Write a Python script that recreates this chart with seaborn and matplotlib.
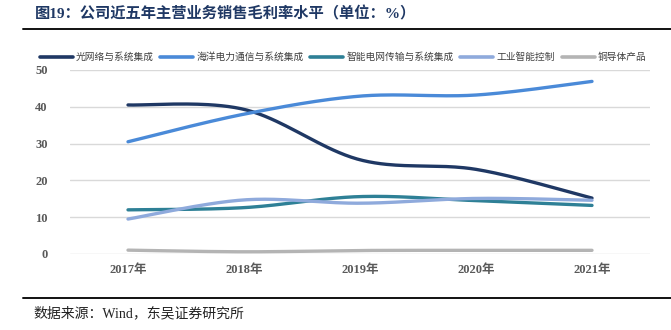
import numpy as np
import pandas as pd
import matplotlib
matplotlib.use("Agg")
import matplotlib.pyplot as plt
import seaborn as sns

# ---------------- data ----------------
years = ["2017年", "2018年", "2019年", "2020年", "2021年"]
series_names = ["光网络与系统集成", "海洋电力通信与系统集成", "智能电网传输与系统集成", "工业智能控制", "铜导体产品"]
optical = [40.5, 39.3, 25.6, 23.0, 15.2]
marine = [30.5, 38.0, 42.9, 43.2, 46.9]
grid = [12.0, 12.6, 15.6, 14.5, 13.2]
industrial = [9.5, 14.7, 13.8, 15.1, 14.6]
copper = [1.05, 0.6, 0.95, 1.0, 1.0]
y_ticks = [0, 10, 20, 30, 40, 50]

colors = ["#1f3864", "#4a8ad8", "#2e8096", "#8faadc", "#b4b4b4"]
values = [optical, marine, grid, industrial, copper]

title = "图19：公司近五年主营业务销售毛利率水平（单位：%）"
source = "数据来源：Wind，东吴证券研究所"


def smooth(xs, ys, n=40):
    """Catmull-Rom style Bezier smoothing (like Excel smoothed lines) for drawing."""
    xs = np.asarray(xs, float)
    ys = np.asarray(ys, float)
    P = np.column_stack([xs, ys])
    m = len(P)
    out = []
    for i in range(m - 1):
        p0 = P[i - 1] if i > 0 else P[i]
        p1 = P[i]
        p2 = P[i + 1]
        p3 = P[i + 2] if i + 2 < m else P[i + 1]
        c1 = p1 + (p2 - p0) / 6.0
        c2 = p2 - (p3 - p1) / 6.0
        t = np.linspace(0, 1, n)[:, None]
        seg = ((1 - t) ** 3) * p1 + 3 * ((1 - t) ** 2) * t * c1 + 3 * (1 - t) * t ** 2 * c2 + t ** 3 * p2
        if i > 0:
            seg = seg[1:]
        out.append(seg)
    out = np.vstack(out)
    return out[:, 0], out[:, 1]


rows = []
for name, vals in zip(series_names, values):
    sx, sy = smooth(np.arange(len(years)), vals)
    for k, (a, b) in enumerate(zip(sx, sy)):
        rows.append({"x": a, "y": b, "series": name, "order": k})
df = pd.DataFrame(rows)

sns.set_theme(style="white")
serif_cjk = ["Liberation Serif", "Noto Sans CJK SC"]
plt.rcParams["font.family"] = ["Noto Sans CJK SC", "DejaVu Sans"]

fig = plt.figure(figsize=(6.71, 3.30), dpi=100)
ax = fig.add_axes([70 / 671, 1 - 254 / 330, 580 / 671, 184 / 330])

sns.lineplot(data=df, x="x", y="y", hue="series", hue_order=series_names,
             palette=colors, sort=False, estimator=None, units="series",
             linewidth=2.4, ax=ax, legend=True)
for ln in ax.get_lines():
    ln.set_solid_capstyle("round")

ax.set_xlim(-0.5, len(years) - 0.5)
ax.set_ylim(0, 50)
ax.set_yticks(y_ticks)
ax.set_xticks(range(len(years)))
ax.set_xticklabels(years)
ax.set_xlabel("")
ax.set_ylabel("")
ax.grid(axis="y", color="#d9d9d9", linewidth=1.0)
ax.set_axisbelow(True)
for s in ax.spines.values():
    s.set_visible(False)
ax.tick_params(axis="both", length=0, colors="#595959")
ax.tick_params(axis="y", pad=16)
ax.tick_params(axis="x", pad=7)
for lab in ax.get_xticklabels() + ax.get_yticklabels():
    lab.set_family(serif_cjk)
    lab.set_fontweight("bold")
    lab.set_fontsize(9)
    lab.set_color("#595959")

handles, labels = ax.get_legend_handles_labels()
ax.get_legend().remove()
for h in handles:
    h.set_linewidth(2.6)
leg = fig.legend(handles, labels, loc="center", bbox_to_anchor=(343 / 671, 1 - 57 / 330),
                 ncol=5, frameon=False, fontsize=7, handlelength=3.4,
                 handletextpad=0.3, columnspacing=0.7, borderpad=0)
for t in leg.get_texts():
    t.set_color("#404040")

# title and rules
fig.text(35 / 671, 1 - 14 / 330, title, fontsize=11, fontweight="bold",
         color="#1f3864", family=serif_cjk, va="center", ha="left")
fig.add_artist(plt.Line2D([23 / 671, 1.0], [1 - 29 / 330, 1 - 29 / 330],
                          color="#111111", linewidth=1.4, transform=fig.transFigure))
fig.add_artist(plt.Line2D([23 / 671, 1.0], [1 - 298 / 330, 1 - 298 / 330],
                          color="#111111", linewidth=1.4, transform=fig.transFigure))
fig.text(33 / 671, 1 - 313 / 330, source, fontsize=10, color="#222222",
         family=serif_cjk, va="center", ha="left")

fig.savefig("out.png", dpi=100)
